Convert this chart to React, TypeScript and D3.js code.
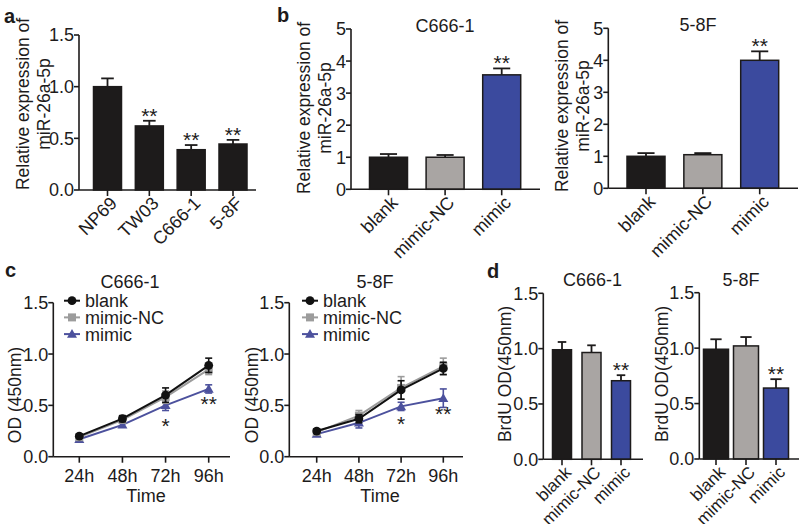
import React from "react";
import * as d3 from "d3";

// ---------- data ----------
const cellLinesA = ["NP69", "TW03", "C666-1", "5-8F"];
const valuesA = [1.0, 0.62, 0.39, 0.445];
const errA = [0.08, 0.05, 0.045, 0.04];
const starsA = ["", "**", "**", "**"];

const groups = ["blank", "mimic-NC", "mimic"];
const valuesB1 = [1.0, 1.0, 3.57];
const errB1 = [0.1, 0.07, 0.2];
const starsB1 = ["", "", "**"];
const valuesB2 = [1.0, 1.05, 4.0];
const errB2 = [0.1, 0.05, 0.28];
const starsB2 = ["", "", "**"];

const times = ["24h", "48h", "72h", "96h"];
const c1Blank = [0.2, 0.37, 0.6, 0.89];
const c1BlankErr = [0.02, 0.03, 0.07, 0.07];
const c1NC = [0.19, 0.36, 0.58, 0.85];
const c1NCErr = [0.02, 0.03, 0.06, 0.05];
const c1Mimic = [0.17, 0.31, 0.5, 0.66];
const c1MimicErr = [0.02, 0.02, 0.05, 0.04];
const c1StarLabels = ["*", "**"];
const c1StarTimes = ["72h", "96h"];
const c1StarY = [0.34, 0.55];

const c2Blank = [0.25, 0.37, 0.65, 0.86];
const c2BlankErr = [0.02, 0.04, 0.09, 0.06];
const c2NC = [0.24, 0.4, 0.67, 0.88];
const c2NCErr = [0.02, 0.05, 0.11, 0.08];
const c2Mimic = [0.22, 0.33, 0.49, 0.57];
const c2MimicErr = [0.02, 0.05, 0.04, 0.09];
const c2StarLabels = ["*", "**"];
const c2StarTimes = ["72h", "96h"];
const c2StarY = [0.36, 0.455];

const valuesD1 = [0.99, 0.965, 0.71];
const errD1 = [0.07, 0.065, 0.05];
const starsD1 = ["", "", "**"];
const valuesD2 = [0.99, 1.02, 0.64];
const errD2 = [0.09, 0.08, 0.08];
const starsD2 = ["", "", "**"];

const ticks15 = [0, 0.5, 1.0, 1.5];
const ticks5 = [0, 1, 2, 3, 4, 5];

// ---------- styles ----------
const FONT = "'Liberation Sans', Arial, sans-serif";
const FS = 18;
const LABEL_FS = 17.5;
const BLACK = "#1d1b1b";
const GRAY = "#a9a5a3";
const BLUE = "#3b4a9e";
const LINE_BLACK = "#111111";
const LINE_GRAY = "#9c9c9c";
const LINE_BLUE = "#4c519d";

type BarProps = {
  axisX: number;
  xEnd: number;
  yTopPx: number;
  y0Px: number;
  yMax: number;
  ticks: number[];
  tickFmt: (v: number) => string;
  cats: string[];
  firstC: number;
  lastC: number;
  barW: number;
  vals: number[];
  errs: number[];
  stars: string[];
  fills: string[];
  catFs?: number;
};

function BarPanel(p: BarProps) {
  const y = d3.scaleLinear().domain([0, p.yMax]).range([p.y0Px, p.yTopPx]);
  const x = d3.scalePoint<string>().domain(p.cats).range([p.firstC, p.lastC]);
  const catFs = p.catFs ?? FS;
  return (
    <g>
      {p.vals.map((v, i) => {
        const cx = x(p.cats[i])!;
        const top = y(v);
        const et = y(v + p.errs[i]);
        const cw = p.barW * 0.45;
        return (
          <g key={i}>
            <line x1={cx} x2={cx} y1={top} y2={et} stroke={BLACK} strokeWidth={1.8} />
            <line x1={cx - cw / 2} x2={cx + cw / 2} y1={et} y2={et} stroke={BLACK} strokeWidth={1.8} />
            <rect x={cx - p.barW / 2} y={top} width={p.barW} height={p.y0Px - top} fill={p.fills[i]} stroke={BLACK} strokeWidth={1.5} />
            {p.stars[i] ? (
              <text x={cx} y={et + 2} textAnchor="middle" fontSize={21} fontFamily={FONT} fill={BLACK}>
                {p.stars[i]}
              </text>
            ) : null}
          </g>
        );
      })}
      {/* axes */}
      <line x1={p.axisX} x2={p.axisX} y1={p.yTopPx} y2={p.y0Px} stroke={BLACK} strokeWidth={1.6} />
      <line x1={p.axisX} x2={p.xEnd} y1={p.y0Px} y2={p.y0Px} stroke={BLACK} strokeWidth={1.6} />
      {p.ticks.map((t) => (
        <g key={t}>
          <line x1={p.axisX - 5} x2={p.axisX} y1={y(t)} y2={y(t)} stroke={BLACK} strokeWidth={1.6} />
          <text x={p.axisX - 5} y={y(t)} dy="0.36em" textAnchor="end" fontSize={FS} fontFamily={FONT} fill={BLACK}>
            {p.tickFmt(t)}
          </text>
        </g>
      ))}
      {p.cats.map((c) => {
        const cx = x(c)!;
        return (
          <g key={c}>
            <line x1={cx} x2={cx} y1={p.y0Px} y2={p.y0Px + 6} stroke={BLACK} strokeWidth={1.6} />
            <text
              transform={`translate(${cx + 6},${p.y0Px + 10}) rotate(-45)`}
              textAnchor="end"
              dy="0.35em"
              fontSize={catFs}
              fontFamily={FONT}
              fill={BLACK}
            >
              {c}
            </text>
          </g>
        );
      })}
    </g>
  );
}

type Series = { name: string; vals: number[]; errs: number[]; color: string; shape: "circle" | "square" | "triangle" };

function Marker({ shape, x, y, color }: { shape: string; x: number; y: number; color: string }) {
  if (shape === "circle") return <circle cx={x} cy={y} r={4.4} fill={color} />;
  if (shape === "square") return <rect x={x - 4} y={y - 4} width={8} height={8} fill={color} />;
  const s = 5;
  return <path d={`M${x},${y - s}L${x + s},${y + s * 0.75}L${x - s},${y + s * 0.75}Z`} fill={color} />;
}

type LineProps = {
  axisX: number;
  xEnd: number;
  yTopPx: number;
  y0Px: number;
  firstX: number;
  lastX: number;
  series: Series[];
  starLabels: string[];
  starTimes: string[];
  starY: number[];
  legendX: number;
  legendY: number;
};

function LinePanel(p: LineProps) {
  const y = d3.scaleLinear().domain([0, 1.5]).range([p.y0Px, p.yTopPx]);
  const x = d3.scalePoint<string>().domain(times).range([p.firstX, p.lastX]);
  const line = d3
    .line<number>()
    .x((_, i) => x(times[i])!)
    .y((v) => y(v));
  const drawOrder = [p.series[2], p.series[1], p.series[0]];
  return (
    <g>
      {drawOrder.map((s) => (
        <g key={s.name}>
          <path d={line(s.vals)!} fill="none" stroke={s.color} strokeWidth={2} />
          {s.vals.map((v, i) => {
            const cx = x(times[i])!;
            const a = y(v + s.errs[i]);
            const b = y(v - s.errs[i]);
            return (
              <g key={i}>
                <line x1={cx} x2={cx} y1={a} y2={b} stroke={s.color} strokeWidth={1.6} />
                <line x1={cx - 3.5} x2={cx + 3.5} y1={a} y2={a} stroke={s.color} strokeWidth={1.6} />
                <line x1={cx - 3.5} x2={cx + 3.5} y1={b} y2={b} stroke={s.color} strokeWidth={1.6} />
                <Marker shape={s.shape} x={cx} y={y(v)} color={s.color} />
              </g>
            );
          })}
        </g>
      ))}
      {p.starLabels.map((st, i) => (
        <text
          key={i}
          x={x(p.starTimes[i])!}
          y={y(p.starY[i]) + 11}
          textAnchor="middle"
          fontSize={21}
          fontFamily={FONT}
          fill={BLACK}
        >
          {st}
        </text>
      ))}
      {/* legend */}
      {p.series.map((s, i) => {
        const ly = p.legendY + i * 16.7;
        return (
          <g key={s.name}>
            <line x1={p.legendX} x2={p.legendX + 16} y1={ly} y2={ly} stroke={s.color} strokeWidth={2} />
            <Marker shape={s.shape} x={p.legendX + 8} y={ly} color={s.color} />
            <text x={p.legendX + 21} y={ly} dy="0.36em" fontSize={FS} fontFamily={FONT} fill={BLACK}>
              {s.name}
            </text>
          </g>
        );
      })}
      {/* axes */}
      <line x1={p.axisX} x2={p.axisX} y1={p.yTopPx} y2={p.y0Px} stroke={BLACK} strokeWidth={1.6} />
      <line x1={p.axisX} x2={p.xEnd} y1={p.y0Px} y2={p.y0Px} stroke={BLACK} strokeWidth={1.6} />
      {ticks15.map((t) => (
        <g key={t}>
          <line x1={p.axisX - 5} x2={p.axisX} y1={y(t)} y2={y(t)} stroke={BLACK} strokeWidth={1.6} />
          <text x={p.axisX - 5} y={y(t)} dy="0.36em" textAnchor="end" fontSize={FS} fontFamily={FONT} fill={BLACK}>
            {t.toFixed(1)}
          </text>
        </g>
      ))}
      {times.map((t) => (
        <g key={t}>
          <line x1={x(t)!} x2={x(t)!} y1={p.y0Px} y2={p.y0Px + 6} stroke={BLACK} strokeWidth={1.6} />
          <text x={x(t)!} y={p.y0Px + 25} textAnchor="middle" fontSize={FS} fontFamily={FONT} fill={BLACK}>
            {t}
          </text>
        </g>
      ))}
    </g>
  );
}

function VLabel({ x, y, lines, gap = 21 }: { x: number; y: number; lines: string[]; gap?: number }) {
  return (
    <text transform={`translate(${x},${y}) rotate(-90)`} textAnchor="middle" fontSize={LABEL_FS} fontFamily={FONT} fill={BLACK}>
      {lines.map((l, i) => (
        <tspan key={i} x={0} y={i * gap}>
          {l}
        </tspan>
      ))}
    </text>
  );
}

function Txt({ x, y, t, anchor = "middle", bold = false, size = FS }: { x: number; y: number; t: string; anchor?: string; bold?: boolean; size?: number }) {
  return (
    <text x={x} y={y} textAnchor={anchor as any} fontSize={size} fontWeight={bold ? "bold" : "normal"} fontFamily={FONT} fill={BLACK}>
      {t}
    </text>
  );
}

export default function App() {
  const fmt1 = (v: number) => v.toFixed(1);
  const fmt0 = (v: number) => String(v);
  const c1Series: Series[] = [
    { name: "blank", vals: c1Blank, errs: c1BlankErr, color: LINE_BLACK, shape: "circle" },
    { name: "mimic-NC", vals: c1NC, errs: c1NCErr, color: LINE_GRAY, shape: "square" },
    { name: "mimic", vals: c1Mimic, errs: c1MimicErr, color: LINE_BLUE, shape: "triangle" },
  ];
  const c2Series: Series[] = [
    { name: "blank", vals: c2Blank, errs: c2BlankErr, color: LINE_BLACK, shape: "circle" },
    { name: "mimic-NC", vals: c2NC, errs: c2NCErr, color: LINE_GRAY, shape: "square" },
    { name: "mimic", vals: c2Mimic, errs: c2MimicErr, color: LINE_BLUE, shape: "triangle" },
  ];
  return (
    <svg width={800} height={524} style={{ position: "absolute", left: 0, top: 0, background: "#fff" }}>
      <rect width={800} height={524} fill="#fff" />
      {/* Panel a */}
      <Txt x={4} y={23} t="a" anchor="start" bold size={20} />
      <VLabel x={29} y={104} lines={["Relative expression of", "miR-26a-5p"]} />
      <BarPanel
        axisX={79} xEnd={256} yTopPx={35} y0Px={190} yMax={1.5} ticks={ticks15} tickFmt={fmt1}
        cats={cellLinesA} firstC={107.5} lastC={233} barW={28}
        vals={valuesA} errs={errA} stars={starsA} fills={[BLACK, BLACK, BLACK, BLACK]}
      />
      {/* Panel b */}
      <Txt x={277} y={22} t="b" anchor="start" bold size={20} />
      <Txt x={445} y={32} t="C666-1" />
      <VLabel x={309.5} y={108} lines={["Relative expression of", "miR-26a-5p"]} />
      <BarPanel
        axisX={351} xEnd={540} yTopPx={29} y0Px={189.3} yMax={5} ticks={ticks5} tickFmt={fmt0}
        cats={groups} firstC={388.5} lastC={501.7} barW={38}
        vals={valuesB1} errs={errB1} stars={starsB1} fills={[BLACK, GRAY, BLUE]}
      />
      <Txt x={698} y={31} t="5-8F" />
      <VLabel x={567.5} y={106} lines={["Relative expression of", "miR-26a-5p"]} />
      <BarPanel
        axisX={608.3} xEnd={798} yTopPx={28.3} y0Px={188.3} yMax={5} ticks={ticks5} tickFmt={fmt0}
        cats={groups} firstC={646} lastC={759.7} barW={38}
        vals={valuesB2} errs={errB2} stars={starsB2} fills={[BLACK, GRAY, BLUE]}
      />
      {/* Panel c */}
      <Txt x={5} y={277} t="c" anchor="start" bold size={20} />
      <Txt x={130} y={288} t="C666-1" />
      <VLabel x={21} y={395} lines={["OD (450nm)"]} />
      <LinePanel
        axisX={53.3} xEnd={230} yTopPx={302.7} y0Px={456.7} firstX={79.3} lastX={208.7}
        series={c1Series} starLabels={c1StarLabels} starTimes={c1StarTimes} starY={c1StarY}
        legendX={64} legendY={300.7}
      />
      <Txt x={146} y={502} t="Time" />
      <Txt x={375} y={288} t="5-8F" />
      <VLabel x={257.7} y={395} lines={["OD (450nm)"]} />
      <LinePanel
        axisX={289.3} xEnd={463} yTopPx={302.7} y0Px={456.7} firstX={316.7} lastX={443.3}
        series={c2Series} starLabels={c2StarLabels} starTimes={c2StarTimes} starY={c2StarY}
        legendX={302} legendY={300.7}
      />
      <Txt x={380} y={502} t="Time" />
      {/* Panel d */}
      <Txt x={487} y={278} t="d" anchor="start" bold size={20} />
      <Txt x={592.5} y={286} t="C666-1" />
      <VLabel x={511} y={374} lines={["BrdU OD(450nm)"]} />
      <BarPanel
        axisX={543.3} xEnd={643} yTopPx={293.3} y0Px={459.3} yMax={1.5} ticks={ticks15} tickFmt={fmt1}
        cats={groups} firstC={562} lastC={621} barW={19} catFs={17}
        vals={valuesD1} errs={errD1} stars={starsD1} fills={[BLACK, GRAY, BLUE]}
      />
      <Txt x={741} y={286} t="5-8F" />
      <VLabel x={667.7} y={374} lines={["BrdU OD(450nm)"]} />
      <BarPanel
        axisX={699.3} xEnd={799} yTopPx={292.7} y0Px={459} yMax={1.5} ticks={ticks15} tickFmt={fmt1}
        cats={groups} firstC={716} lastC={776} barW={25} catFs={17}
        vals={valuesD2} errs={errD2} stars={starsD2} fills={[BLACK, GRAY, BLUE]}
      />
    </svg>
  );
}
